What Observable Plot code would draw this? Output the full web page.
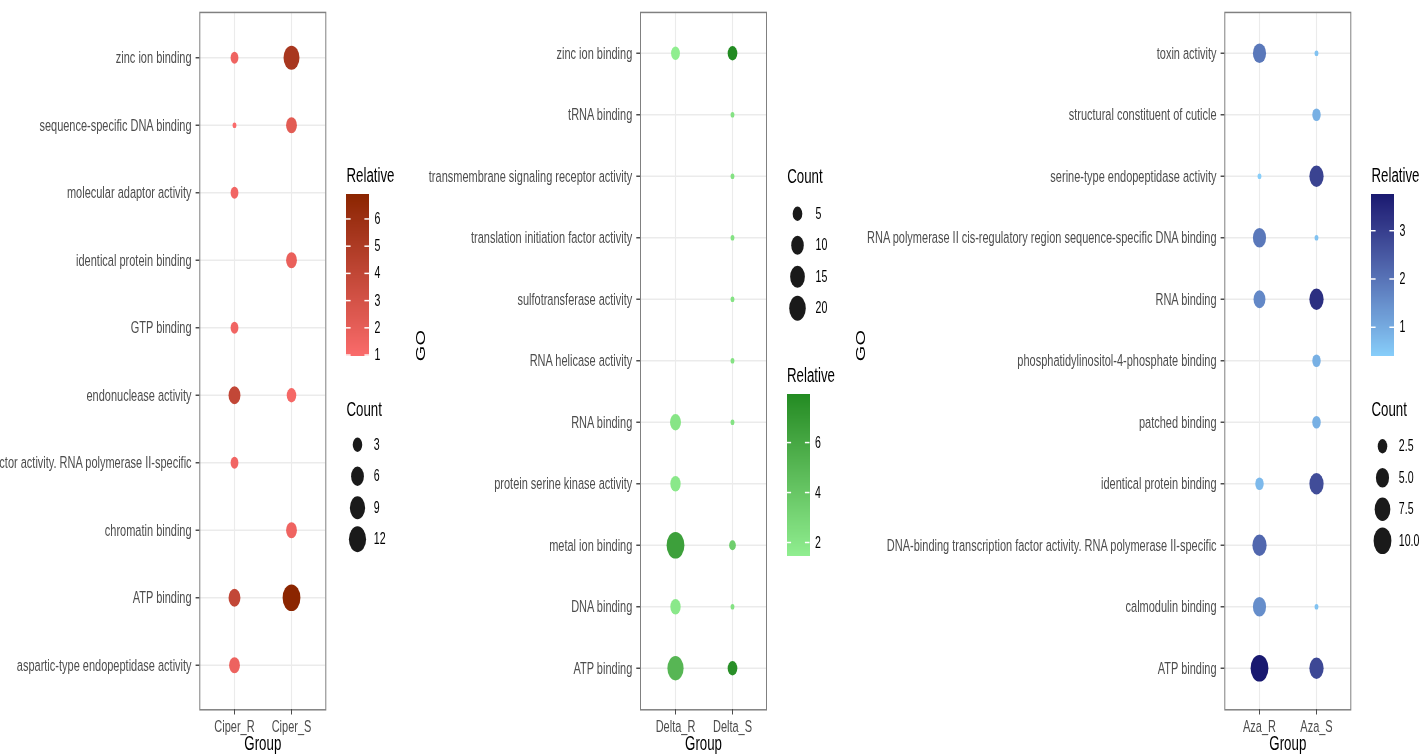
<!DOCTYPE html>
<html>
<head>
<meta charset="utf-8">
<script src="https://cdn.jsdelivr.net/npm/d3@7"></script>
<script src="https://cdn.jsdelivr.net/npm/@observablehq/plot@0.6"></script>
<style>
  html { overflow: hidden; }
  body { margin: 0; padding: 0; background: #fff; width: 1423px; height: 756px; }
  /* the three panels are laid out on a 1423x504 sheet that is stretched vertically */
  #figure { position: relative; width: 1423px; height: 504px; transform: scaleY(1.5); transform-origin: 0 0; }
  #figure svg { position: absolute; left: 0; top: 0; overflow: visible; }
</style>
</head>
<body>
<div id="figure"></div>
<script>
// ---------- Ciper ----------
const ciperGroups = ["Ciper_R", "Ciper_S"];
const ciperTerms = [
  "zinc ion binding",
  "sequence-specific DNA binding",
  "molecular adaptor activity",
  "identical protein binding",
  "GTP binding",
  "endonuclease activity",
  "DNA-binding transcription factor activity. RNA polymerase II-specific",
  "chromatin binding",
  "ATP binding",
  "aspartic-type endopeptidase activity"
];
const ciperTerm = [
  "zinc ion binding", "zinc ion binding",
  "sequence-specific DNA binding", "sequence-specific DNA binding",
  "molecular adaptor activity",
  "identical protein binding",
  "GTP binding",
  "endonuclease activity", "endonuclease activity",
  "DNA-binding transcription factor activity. RNA polymerase II-specific",
  "chromatin binding",
  "ATP binding", "ATP binding",
  "aspartic-type endopeptidase activity"
];
const ciperGroup = ["Ciper_R", "Ciper_S", "Ciper_R", "Ciper_S", "Ciper_R", "Ciper_S", "Ciper_R",
  "Ciper_R", "Ciper_S", "Ciper_R", "Ciper_S", "Ciper_R", "Ciper_S", "Ciper_R"];
const ciperCount = [2, 10, 1, 4, 2, 4, 2, 5, 3, 2, 4, 5, 13, 4];
const ciperRelative = [1.5, 5.3, 0.94, 2.2, 1.4, 1.8, 1.4, 3.9, 1.2, 1.4, 1.5, 3.9, 6.88, 1.6];
const ciperColors = ["#FA6B6B", "#8B2500"];
const ciperRelTicks = [1, 2, 3, 4, 5, 6];
const ciperCountBreaks = [3, 6, 9, 12];
const ciperCountLabels = ["3", "6", "9", "12"];

// ---------- Delta ----------
const deltaGroups = ["Delta_R", "Delta_S"];
const deltaTerms = [
  "zinc ion binding",
  "tRNA binding",
  "transmembrane signaling receptor activity",
  "translation initiation factor activity",
  "sulfotransferase activity",
  "RNA helicase activity",
  "RNA binding",
  "protein serine kinase activity",
  "metal ion binding",
  "DNA binding",
  "ATP binding"
];
const deltaTerm = [
  "zinc ion binding", "zinc ion binding",
  "tRNA binding",
  "transmembrane signaling receptor activity",
  "translation initiation factor activity",
  "sulfotransferase activity",
  "RNA helicase activity",
  "RNA binding", "RNA binding",
  "protein serine kinase activity",
  "metal ion binding", "metal ion binding",
  "DNA binding", "DNA binding",
  "ATP binding", "ATP binding"
];
const deltaGroup = ["Delta_R", "Delta_S", "Delta_S", "Delta_S", "Delta_S", "Delta_S", "Delta_S",
  "Delta_R", "Delta_S", "Delta_R", "Delta_R", "Delta_S", "Delta_R", "Delta_S", "Delta_R", "Delta_S"];
const deltaCount = [4, 5, 1, 1, 1, 1, 1, 7, 1, 6, 24, 2, 6, 1, 19, 5];
const deltaRelative = [1.44, 7.9, 2.2, 2.2, 2.2, 2.2, 2.2, 2.0, 2.2, 1.8, 6.5, 3.5, 1.8, 2.2, 5.0, 7.6];
const deltaColors = ["#90EE90", "#228B22"];
const deltaRelTicks = [2, 4, 6];
const deltaCountBreaks = [5, 10, 15, 20];
const deltaCountLabels = ["5", "10", "15", "20"];

// ---------- Aza ----------
const azaGroups = ["Aza_R", "Aza_S"];
const azaTerms = [
  "toxin activity",
  "structural constituent of cuticle",
  "serine-type endopeptidase activity",
  "RNA polymerase II cis-regulatory region sequence-specific DNA binding",
  "RNA binding",
  "phosphatidylinositol-4-phosphate binding",
  "patched binding",
  "identical protein binding",
  "DNA-binding transcription factor activity. RNA polymerase II-specific",
  "calmodulin binding",
  "ATP binding"
];
const azaTerm = [
  "toxin activity", "toxin activity",
  "structural constituent of cuticle",
  "serine-type endopeptidase activity", "serine-type endopeptidase activity",
  "RNA polymerase II cis-regulatory region sequence-specific DNA binding",
  "RNA polymerase II cis-regulatory region sequence-specific DNA binding",
  "RNA binding", "RNA binding",
  "phosphatidylinositol-4-phosphate binding",
  "patched binding",
  "identical protein binding", "identical protein binding",
  "DNA-binding transcription factor activity. RNA polymerase II-specific",
  "calmodulin binding", "calmodulin binding",
  "ATP binding", "ATP binding"
];
const azaGroup = ["Aza_R", "Aza_S", "Aza_S", "Aza_R", "Aza_S", "Aza_R", "Aza_S", "Aza_R", "Aza_S",
  "Aza_S", "Aza_S", "Aza_R", "Aza_S", "Aza_R", "Aza_R", "Aza_S", "Aza_R", "Aza_S"];
const azaCount = [5, 1, 2, 1, 6, 5, 1, 4, 6, 2, 2, 2, 6, 6, 5, 1, 10, 6];
const azaRelative = [1.9, 0.6, 0.9, 0.39, 2.9, 1.9, 0.6, 1.6, 3.3, 0.9, 0.9, 0.75, 2.7, 2.2, 1.5, 0.6, 3.74, 2.8];
const azaColors = ["#87CEFA", "#191970"];
const azaRelTicks = [1, 2, 3];
const azaCountBreaks = [2.5, 5, 7.5, 10];
const azaCountLabels = ["2.5", "5.0", "7.5", "10.0"];

// ---------- shared drawing helpers ----------
const W = 1423, H = 504;
const TOP = 7.8, BOTTOM = 472.7;
const FONT = '"Liberation Sans", Arial, Helvetica, sans-serif';
const baseStyle = {fontFamily: FONT, background: "transparent", overflow: "visible"};
const figure = document.getElementById("figure");

// area-proportional point sizes over the data range of Count
const sizeScale = ([lo, hi]) => ({
  type: "linear",
  domain: [0, 1],
  range: [1.9, 8.9],
  transform: v => Math.sqrt((v - lo) / (hi - lo))
});

function dotPanel(p) {
  const rows = p.term.map((t, i) => ({term: t, group: p.group[i], count: p.count[i], relative: p.relative[i]}));
  const marks = [
    Plot.gridX({stroke: "#ebebeb", strokeOpacity: 1, strokeWidth: 1.1}),
    Plot.gridY({stroke: "#ebebeb", strokeOpacity: 1, strokeWidth: 1.1}),
    Plot.frame({stroke: "#808080", strokeWidth: 1}),
    Plot.axisX({tickSize: 3.7, tickPadding: 3.5, fontSize: 11, color: "#4d4d4d", label: null}),
    Plot.axisY({tickSize: 3.7, tickPadding: 4.5, fontSize: 11, color: "#4d4d4d", label: null}),
    Plot.dot(rows, {x: "group", y: "term", r: "count", fill: "relative"}),
    Plot.text(["Group"], {frameAnchor: "bottom", dy: 26.6, fontSize: 13.3, fill: "#000"})
  ];
  if (p.goX != null) {
    marks.push(Plot.text(["GO"], {frameAnchor: "left", dx: p.goX - p.left, rotate: -90, fontSize: 13.3, fill: "#000"}));
  }
  return Plot.plot({
    width: W, height: H,
    marginLeft: p.left, marginRight: W - p.right, marginTop: TOP, marginBottom: H - BOTTOM,
    style: baseStyle,
    x: {type: "point", domain: p.groups, padding: 0.6},
    y: {type: "point", domain: p.terms, padding: 0.6},
    color: {type: "linear", domain: d3.extent(p.relative), range: p.colors, interpolate: "lab"},
    r: sizeScale(d3.extent(p.count)),
    marks
  });
}

function colorBar(p) {
  const [lo, hi] = d3.extent(p.relative);
  const n = 160, step = (hi - lo) / n;
  const slices = d3.range(n).map(i => lo + i * step);
  return Plot.plot({
    width: W, height: H, margin: 0,
    style: baseStyle,
    x: {domain: [0, 1], range: [p.x0, p.x0 + 23], axis: null},
    y: {domain: [lo, hi], range: [p.yBottom, p.yTop], axis: null},
    color: {type: "linear", domain: [lo, hi], range: p.colors, interpolate: "lab"},
    marks: [
      Plot.rect(slices, {x1: 0, x2: 1, y1: d => d, y2: d => Math.min(hi, d + step * 1.5), fill: d => d + step / 2, shapeRendering: "crispEdges"}),
      Plot.ruleY(p.ticks, {x1: 0, x2: 0.2, stroke: "#fff", strokeWidth: 1}),
      Plot.ruleY(p.ticks, {x1: 0.8, x2: 1, stroke: "#fff", strokeWidth: 1}),
      Plot.text(p.ticks, {x: 1, y: d => d, dx: 5, text: d => String(d), textAnchor: "start", fontSize: 10.6, fill: "#000"}),
      Plot.text(["Relative"], {x: 0, y: hi, dy: -13, textAnchor: "start", fontSize: 13.3, fill: "#000"})
    ]
  });
}

function sizeKey(p) {
  return Plot.plot({
    width: W, height: H, margin: 0,
    style: baseStyle,
    x: {domain: [0, 1], range: [p.cx, p.cx + 1], axis: null},
    y: {type: "point", domain: p.breaks, range: [p.yFirst, p.yLast], padding: 0, axis: null},
    r: sizeScale(d3.extent(p.count)),
    marks: [
      Plot.dot(p.breaks, {x: 0, y: d => d, r: d => d, fill: "#1a1a1a"}),
      Plot.text(p.breaks, {x: 0, y: d => d, dx: p.labelX - p.cx, text: (d, i) => p.labels[i], textAnchor: "start", fontSize: 10.6, fill: "#000"}),
      Plot.text(["Count"], {x: 0, y: p.breaks[0], dx: p.titleX - p.cx, dy: p.titleY - p.yFirst, textAnchor: "start", fontSize: 13.3, fill: "#000"})
    ]
  });
}

const parts = [
  dotPanel({groups: ciperGroups, terms: ciperTerms, term: ciperTerm, group: ciperGroup,
    count: ciperCount, relative: ciperRelative, colors: ciperColors, left: 199.3, right: 325.3}),
  colorBar({relative: ciperRelative, colors: ciperColors, ticks: ciperRelTicks, x0: 346, yTop: 129.5, yBottom: 237.3}),
  sizeKey({count: ciperCount, breaks: ciperCountBreaks, labels: ciperCountLabels,
    cx: 357, labelX: 373.3, yFirst: 295.1, yLast: 360.7, titleX: 346, titleY: 272}),

  dotPanel({groups: deltaGroups, terms: deltaTerms, term: deltaTerm, group: deltaGroup,
    count: deltaCount, relative: deltaRelative, colors: deltaColors, left: 640, right: 766, goX: 420}),
  sizeKey({count: deltaCount, breaks: deltaCountBreaks, labels: deltaCountLabels,
    cx: 797, labelX: 815, yFirst: 140.4, yLast: 205.6, titleX: 786.7, titleY: 115.5}),
  colorBar({relative: deltaRelative, colors: deltaColors, ticks: deltaRelTicks, x0: 786.5, yTop: 262.9, yBottom: 370.5}),

  dotPanel({groups: azaGroups, terms: azaTerms, term: azaTerm, group: azaGroup,
    count: azaCount, relative: azaRelative, colors: azaColors, left: 1224.3, right: 1350.3, goX: 860}),
  colorBar({relative: azaRelative, colors: azaColors, ticks: azaRelTicks, x0: 1371, yTop: 129.5, yBottom: 237.3}),
  sizeKey({count: azaCount, breaks: azaCountBreaks, labels: azaCountLabels,
    cx: 1382, labelX: 1398.3, yFirst: 296.7, yLast: 361.1, titleX: 1371, titleY: 272})
];
for (const el of parts) figure.appendChild(el);
</script>
</body>
</html>
